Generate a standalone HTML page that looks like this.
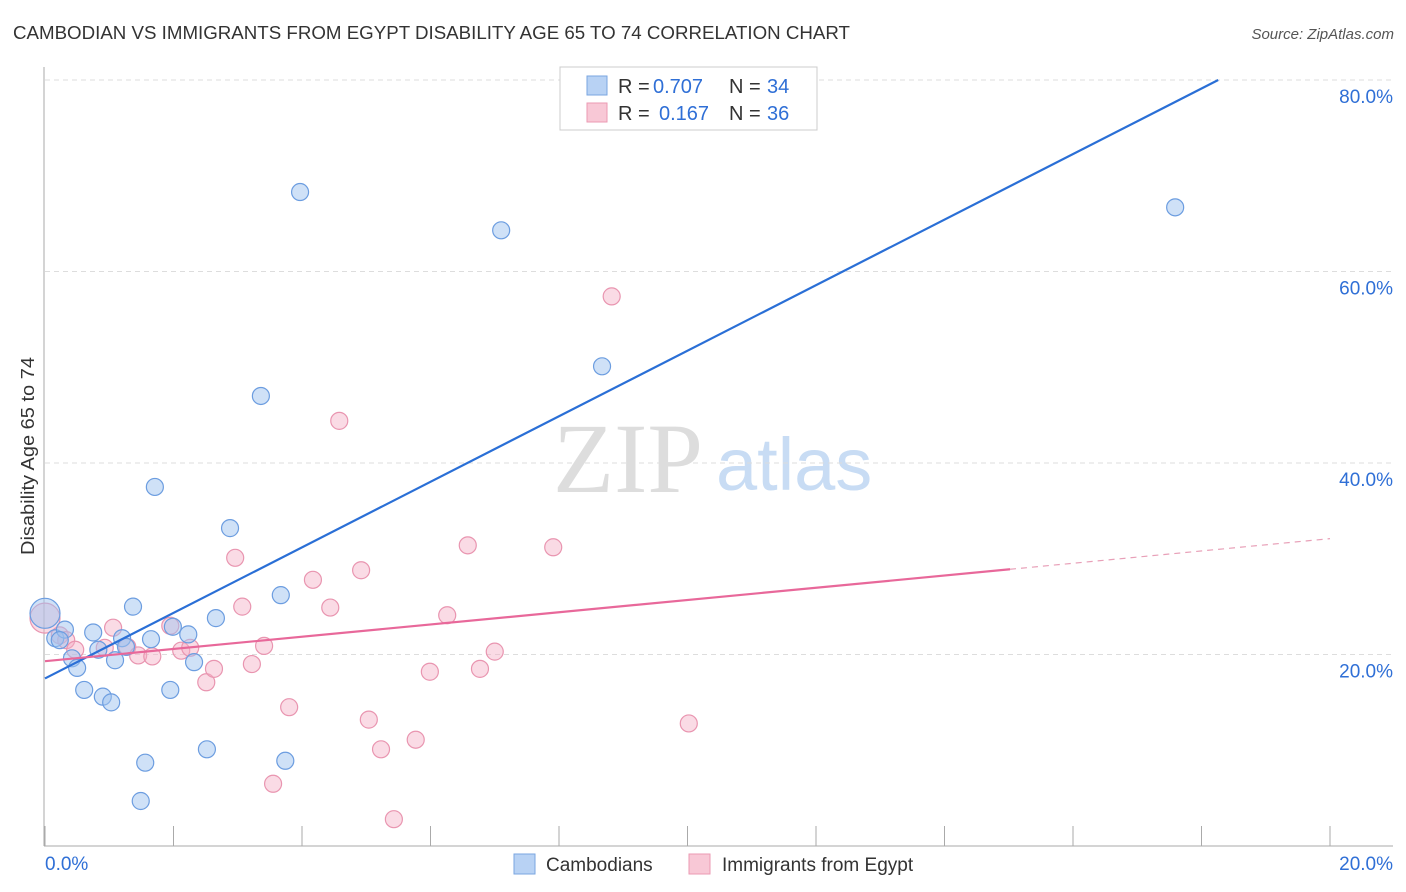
<!DOCTYPE html>
<html><head><meta charset="utf-8"><style>
body{margin:0;background:#fff;font-family:"Liberation Sans",sans-serif}
svg{display:block}
</style></head><body>
<svg id="c" width="1406" height="892" xmlns="http://www.w3.org/2000/svg">
<text x="13" y="39" font-size="18" fill="#333" textLength="837" lengthAdjust="spacingAndGlyphs">CAMBODIAN VS IMMIGRANTS FROM EGYPT DISABILITY AGE 65 TO 74 CORRELATION CHART</text>
<text x="1394" y="39" font-size="15" fill="#555" font-style="italic" text-anchor="end">Source: ZipAtlas.com</text>
<text x="34" y="456" font-size="18" fill="#333" text-anchor="middle" textLength="198" lengthAdjust="spacingAndGlyphs" transform="rotate(-90 34 456)">Disability Age 65 to 74</text>
<text x="553" y="492" font-size="100" fill="#ddd" font-family="Liberation Serif,serif">ZIP</text>
<text x="716" y="490" font-size="74" fill="#c8dcf4">atlas</text>
<g id="grid"></g><g id="pts"></g><g id="lines"></g>
<g>
<rect x="560" y="67" width="257" height="63" fill="#fff" stroke="#ccc"/>
<rect x="587" y="76" width="20" height="19" fill="#b8d2f4" stroke="#7aa6e0"/>
<rect x="587" y="103" width="20" height="19" fill="#f8c8d6" stroke="#eb9ab3"/>
<text x="618" y="93" font-size="20" fill="#333">R =</text>
<text x="653" y="93" font-size="20" fill="#2f6fd6">0.707</text>
<text x="729" y="93" font-size="20" fill="#333">N =</text>
<text x="767" y="93" font-size="20" fill="#2f6fd6">34</text>
<text x="618" y="120" font-size="20" fill="#333">R =</text>
<text x="659" y="120" font-size="20" fill="#2f6fd6">0.167</text>
<text x="729" y="120" font-size="20" fill="#333">N =</text>
<text x="767" y="120" font-size="20" fill="#2f6fd6">36</text>
</g>
<g>
<rect x="514" y="854" width="21" height="20" fill="#b8d2f4" stroke="#7aa6e0"/>
<text x="546" y="871" font-size="19" fill="#333">Cambodians</text>
<rect x="689" y="854" width="21" height="20" fill="#f8c8d6" stroke="#eb9ab3"/>
<text x="722" y="871" font-size="19" fill="#333">Immigrants from Egypt</text>
</g>
</svg>
<script>
const yTicks=[20,40,60,80];
const yTickLabels=["20.0%","40.0%","60.0%","80.0%"];
const xTickLabels=["0.0%","20.0%"];
const blueX=[0,0.16,0.31,0.23,0.42,0.5,0.61,0.75,0.83,0.9,1.03,1.09,1.2,1.26,1.37,1.49,1.56,1.65,1.71,1.95,1.99,2.23,2.32,2.52,2.66,2.88,3.36,3.67,3.74,3.97,7.1,8.67,17.59];
const blueY=[24.3,21.7,22.6,21.5,19.6,18.6,16.3,22.3,20.5,15.6,15,19.4,21.7,20.8,25,4.7,8.7,21.6,37.5,16.3,22.9,22.1,19.2,10.1,23.8,33.2,47,26.2,8.9,68.3,64.3,50.1,66.7];
const pinkX=[0,0.23,0.33,0.47,0.93,1.06,1.28,1.45,1.67,1.95,2.12,2.26,2.51,2.63,2.96,3.07,3.22,3.41,3.55,3.8,4.17,4.44,4.58,4.92,5.04,5.23,5.43,5.77,5.99,6.26,6.58,6.77,7,7.91,8.82,10.02];
const pinkY=[23.8,22,21.5,20.5,20.7,22.8,20.8,19.9,19.8,23,20.4,20.7,17.1,18.5,30.1,25,19,20.9,6.5,14.5,27.8,24.9,44.4,28.8,13.2,10.1,2.8,11.1,18.2,24.1,31.4,18.5,20.3,31.2,57.4,12.8];
const blueTrendX=[0,18.26];
const blueTrendY=[17.5,80];
const pinkTrendX=[0,15.02,20];
const pinkTrendY=[19.3,28.9,32.1];
const X=v=>45+v*64.25, Y=v=>846-v*9.575;
const NS="http://www.w3.org/2000/svg";
function mk(t,a,p){const e=document.createElementNS(NS,t);for(const k in a)e.setAttribute(k,a[k]);p.appendChild(e);return e;}
const g=document.getElementById('grid');
yTicks.forEach((t,i)=>{
 const l=mk('line',{x1:45,x2:1393,y1:Y(t),y2:Y(t),stroke:'#ddd','stroke-dasharray':'5,4'},g);
 
 
 const tx=mk('text',{x:1393,y:Y(t)+23,'font-size':19,fill:'#2f6fd6','text-anchor':'end'},g);
 tx.textContent=yTickLabels[i];
 
 
});
mk('line',{x1:44,x2:44,y1:67,y2:846,stroke:'#aaa'},g);
mk('line',{x1:44,x2:1393,y1:846,y2:846,stroke:'#aaa'},g);
for(let i=0;i<=10;i++){const t=mk('line',{x1:X(i*2),x2:X(i*2),y1:826,y2:846,stroke:'#aaa'},g);
 
 }
[[0,45,'start'],[1,1393,'end']].forEach(([i,x,a])=>{const t=mk('text',{x:x,y:870,'font-size':19,fill:'#2f6fd6','text-anchor':a},g);t.textContent=xTickLabels[i];
 
 });
const P=document.getElementById('pts');
function dots(xs,ys,fill,stroke,name){xs.forEach((x,i)=>{const c=mk('circle',{cx:X(x),cy:Y(ys[i]),r:i==0?15:8.5,fill:fill,stroke:stroke,'stroke-width':1.2},P);
 
 });}
dots(pinkX,pinkY,'rgba(244,176,198,0.45)','#e995b0','egypt-point');
dots(blueX,blueY,'rgba(160,195,240,0.5)','#6c9de0','cambodian-point');
const L=document.getElementById('lines');
const bl=mk('line',{x1:X(blueTrendX[0]),y1:Y(blueTrendY[0]),x2:X(blueTrendX[1]),y2:Y(blueTrendY[1]),stroke:'#2a6fd6','stroke-width':2.2},L);


const pl=mk('line',{x1:X(pinkTrendX[0]),y1:Y(pinkTrendY[0]),x2:X(pinkTrendX[1]),y2:Y(pinkTrendY[1]),stroke:'#e8689a','stroke-width':2.2},L);


const pd=mk('line',{x1:X(pinkTrendX[1]),y1:Y(pinkTrendY[1]),x2:X(pinkTrendX[2]),y2:Y(pinkTrendY[2]),stroke:'#e8a0b8','stroke-width':1.2,'stroke-dasharray':'6,5'},L);


</script>
</body></html>
